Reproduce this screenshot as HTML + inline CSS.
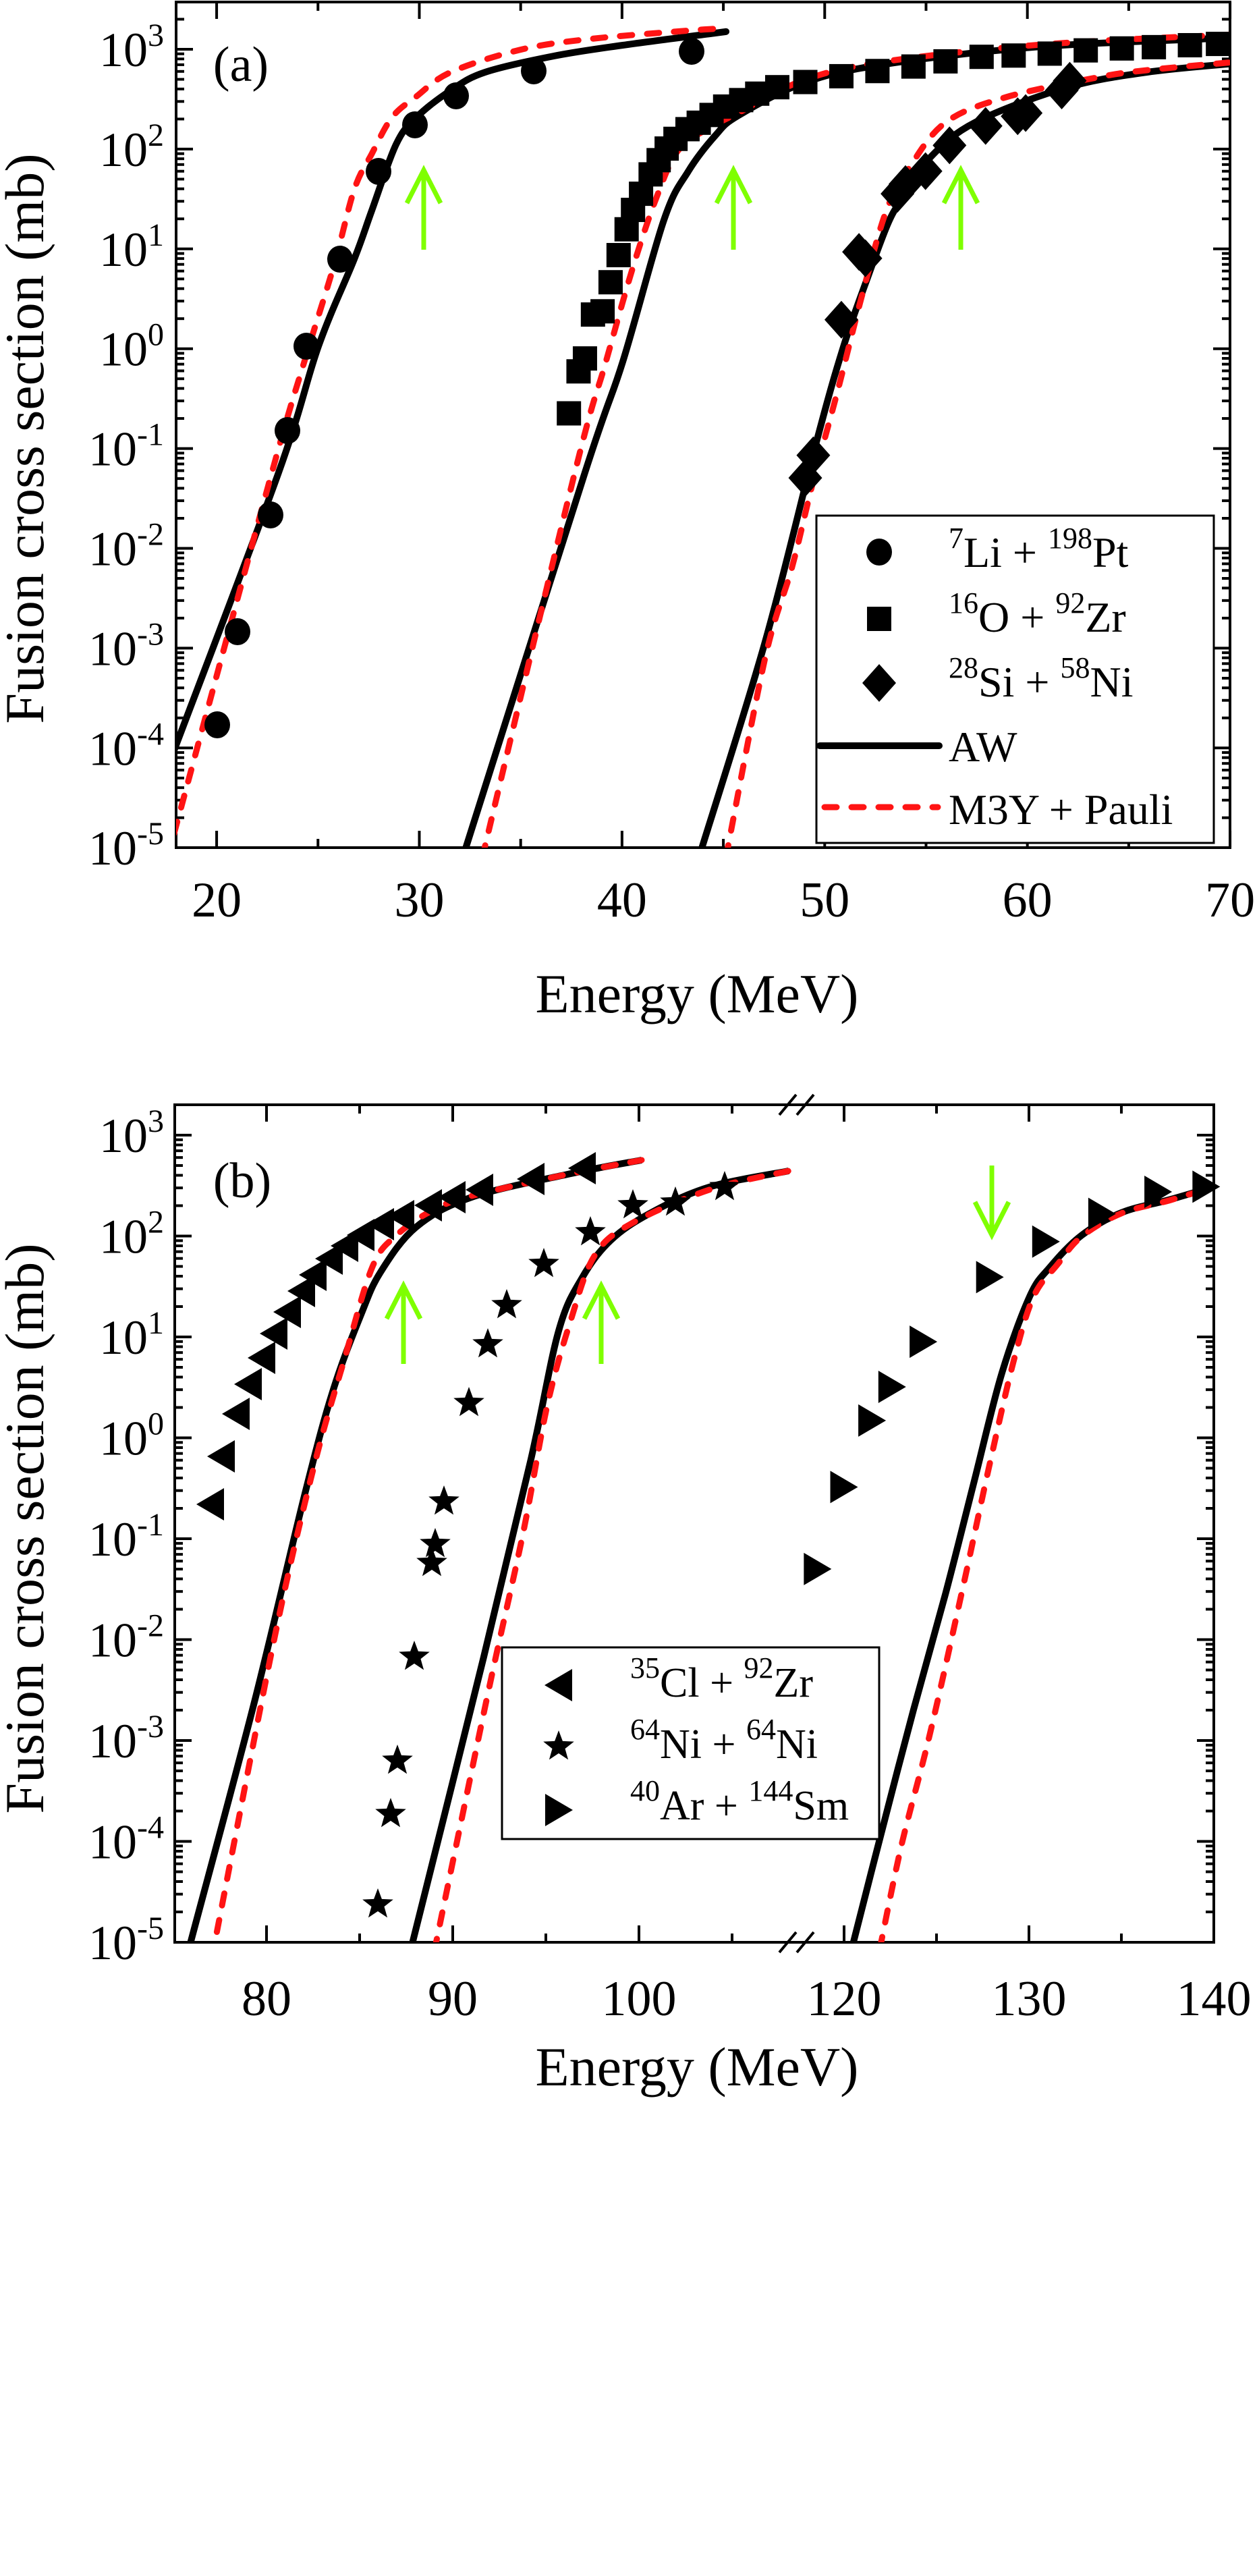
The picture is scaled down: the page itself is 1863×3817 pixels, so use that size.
<!DOCTYPE html>
<html><head><meta charset="utf-8"><style>
html,body{margin:0;padding:0;background:#fff;}
svg{display:block;}
text{font-family:"Liberation Serif","Times New Roman","DejaVu Serif",serif;fill:#000;}
</style></head><body>
<svg id="s" width="1863" height="3817" xmlns="http://www.w3.org/2000/svg" font-family="'Liberation Serif', 'DejaVu Serif', serif"></svg>
<script>
const S=document.getElementById('s');const NS='http://www.w3.org/2000/svg';
const FF='"Liberation Serif","Times New Roman","DejaVu Serif",serif';
function el(t,a,p){const e=document.createElementNS(NS,t);for(const k in a)e.setAttribute(k,a[k]);(p||S).appendChild(e);return e;}
function txt(x,y,parts,a){const e=el('text',Object.assign({x:x,y:y,'font-family':FF,style:'font-family:'+FF},a||{}));
 if(typeof parts!=='object'){e.textContent=parts;return e;}
 for(const p of parts){const t=document.createElementNS(NS,'tspan');t.textContent=p[0];if(p[1])t.setAttribute('font-size',p[1]);if(p[2])t.setAttribute('dy',p[2]);e.appendChild(t);}return e;}
function cr(pts){let d='M'+pts[0][0].toFixed(1)+','+pts[0][1].toFixed(1);
 for(let i=0;i<pts.length-1;i++){const p0=pts[Math.max(0,i-1)],p1=pts[i],p2=pts[i+1],p3=pts[Math.min(pts.length-1,i+2)];
 const c1=[p1[0]+(p2[0]-p0[0])/6,p1[1]+(p2[1]-p0[1])/6],c2=[p2[0]-(p3[0]-p1[0])/6,p2[1]-(p3[1]-p1[1])/6];
 d+='C'+c1.map(v=>v.toFixed(1))+' '+c2.map(v=>v.toFixed(1))+' '+p2.map(v=>v.toFixed(1));}return d;}
const CA=(p)=>p.map(q=>[q[0]*1.1876,q[1]*0.957]);
const CB=(p)=>p.map(q=>[q[0]*1.1876,q[1]*0.957+1500]);
function mk(type,x,y){
 if(type=='c')el('ellipse',{cx:x,cy:y,rx:19,ry:20});
 else if(type=='s')el('rect',{x:x-18,y:y-18,width:36,height:36});
 else if(type=='d')el('polygon',{points:`${x},${y-28} ${x+25},${y} ${x},${y+28} ${x-25},${y}`});
 else if(type=='l')el('polygon',{points:`${x-21},${y} ${x+20},${y-24} ${x+20},${y+24}`});
 else if(type=='r')el('polygon',{points:`${x+21},${y} ${x-20},${y-24} ${x-20},${y+24}`});
 else if(type=='t'){let p=[];for(let i=0;i<10;i++){const a=-Math.PI/2+i*Math.PI/5,rr=i%2?10:24;p.push((x+rr*Math.cos(a)).toFixed(1)+','+(y+rr*Math.sin(a)).toFixed(1));}el('polygon',{points:p.join(' ')});}
}
function arrow(x,y1,y2){const d=y2<y1?1:-1;el('path',{d:`M${x},${y1}L${x},${y2}M${x-25},${y2+d*49}L${x},${y2}L${x+25},${y2+d*49}`,fill:'none',stroke:'#7fff00','stroke-width':7});}
function ylab(x,y,e){txt(x,y,[['10'],[String(e),48,-30]],{'font-size':72,'text-anchor':'end'});}
function cv(pts,red,g){el('path',{d:cr(pts),fill:'none',stroke:red?'#ff1414':'#000','stroke-width':red?9:10,'stroke-dasharray':red?'18 22':'none','stroke-linecap':red?'round':'butt'},g);}
function leg(x,y,a,b,c,d,fs){txt(x,y,[[a,44,-28],[b,null,28],[c,44,-28],[d,null,28]],{'font-size':fs});}

// ===== Panel A =====
const A={l:261,r:1823,t:3,b:1256};
const xa=E=>261+(E-18)*30.04, ya=l=>73+(3-l)*147.9;
for(let E=20;E<=70;E+=5){const x=xa(E),L=E%10==0?25:13;el('line',{x1:x,y1:A.b,x2:x,y2:A.b-L,stroke:'#000','stroke-width':4});el('line',{x1:x,y1:A.t,x2:x,y2:A.t+L,stroke:'#000','stroke-width':4});
 if(E%10==0)txt(x,1358,String(E),{'font-size':74,'text-anchor':'middle'});}
for(let d=-5;d<=3;d++){for(let m=1;m<=9;m++){const l=d+Math.log10(m),y=ya(l);if(y<A.t||y>A.b)continue;const L=m==1?25:12;
 el('line',{x1:A.l,y1:y,x2:A.l+L,y2:y,stroke:'#000','stroke-width':4});el('line',{x1:A.r,y1:y,x2:A.r-L,y2:y,stroke:'#000','stroke-width':4});}
 ylab(243,ya(d)+25,d);}
el('rect',{x:A.l,y:A.t,width:A.r-A.l,height:A.b-A.t,fill:'none',stroke:'#000','stroke-width':4});
txt(36,650,'Fusion cross section (mb)',{'font-size':82,'text-anchor':'middle',transform:'rotate(-90 36 650)',dy:28});
txt(1033,1500,'Energy (MeV)',{'font-size':82,'text-anchor':'middle'});
txt(357,120,'(a)',{'font-size':74,'text-anchor':'middle'});
const clipA=el('clipPath',{id:'ca'});el('rect',{x:A.l,y:A.t,width:A.r-A.l,height:A.b-A.t},clipA);
const gA=el('g',{'clip-path':'url(#ca)'});
cv([[258,1112],[413,700],[472,513],[525,384],[551,312],[587,214],[617,174],[668,134],[719,107],[821,83],[923,67],[1060,49],[1075,47]],0,gA);
cv([[686,1270],[867,700],[923,536],[984,326],[1020,254],[1060,201],[1093,172],[1188,124],[1306,96],[1544,69],[1829,56]],0,gA);
cv([[1036,1270],[1134,951],[1210,655],[1250,514],[1286,411],[1317,329],[1339,292],[1379,233],[1446,181],[1580,130],[1700,107],[1829,94]],0,gA);
cv([[258,1235],[403,700],[451,536],[495,393],[525,281],[551,228],[581,174],[617,143],[668,107],[770,74],[872,58],[1025,45],[1075,42]],1,gA);
cv([[715,1270],[852,700],[898,536],[939,393],[974,290],[1005,223],[1050,190],[1093,168],[1188,120],[1306,92],[1544,66],[1829,51]],1,gA);
cv([[1076,1270],[1134,975],[1174,840],[1205,714],[1241,581],[1277,440],[1313,314],[1348,248],[1402,181],[1491,144],[1625,115],[1700,104],[1829,92]],1,gA);
[[322,1074],[352,936],[401,763],[426,638],[454,513],[504,384],[561,254],[615,185],[676,142],[791,105],[1025,76]].forEach(p=>mk('c',p[0],p[1]));
CA([[710,640],[722,575],[730,555],[740,487],[752,482],[762,437],[772,395],[782,355],[790,325],[800,300],[812,270],[822,248],[832,230],[843,215],[858,200],[872,190],[888,178],[905,165],[925,155],[945,145],[970,135],[1005,127],[1050,118],[1095,110],[1140,103],[1180,95],[1225,88],[1265,86],[1310,83],[1355,78],[1400,75],[1440,73],[1485,70],[1520,68]]).forEach(p=>mk('s',p[0],p[1]));
CA([[1005,740],[1015,705],[1050,495],[1072,390],[1080,400],[1120,300],[1130,285],[1155,265],[1185,225],[1230,195],[1270,180],[1280,175],[1325,140],[1335,125]]).forEach(p=>mk('d',p[0],p[1]));
arrow(628,370,252);arrow(1087,370,252);arrow(1424,370,252);
el('rect',{x:1210,y:764,width:589,height:485,fill:'#fff',stroke:'#000','stroke-width':3});
mk('c',1303,818);mk('s',1303,917);mk('d',1303,1012);
el('line',{x1:1215,y1:1105,x2:1392,y2:1105,stroke:'#000','stroke-width':10,'stroke-linecap':'round'});
el('line',{x1:1222,y1:1196,x2:1390,y2:1196,stroke:'#ff1414','stroke-width':9,'stroke-dasharray':'18 22','stroke-linecap':'round'});
leg(1406,840,'7','Li + ','198','Pt',64);
leg(1406,936,'16','O + ','92','Zr',64);
leg(1406,1032,'28','Si + ','58','Ni',64);
txt(1406,1128,'AW',{'font-size':64});
txt(1406,1221,'M3Y + Pauli',{'font-size':64});

// ===== Panel B =====
const B={l:259,r:1799,t:1637,b:2878};
const yb=l=>1682+(3-l)*149.5;
const xb=E=>E<=112?395+(E-80)*27.6:1251+(E-120)*27.4;
for(const E of [80,85,90,95,100,105,120,125,130,135,140]){const x=xb(E),L=E%10==0?25:13;
 el('line',{x1:x,y1:B.b,x2:x,y2:B.b-L,stroke:'#000','stroke-width':4});el('line',{x1:x,y1:B.t,x2:x,y2:B.t+L,stroke:'#000','stroke-width':4});
 if(E%10==0)txt(x,2986,String(E),{'font-size':74,'text-anchor':'middle'});}
for(let d=-5;d<=3;d++){for(let m=1;m<=9;m++){const l=d+Math.log10(m),y=yb(l);if(y<B.t||y>B.b)continue;const L=m==1?25:12;
 el('line',{x1:B.l,y1:y,x2:B.l+L,y2:y,stroke:'#000','stroke-width':4});el('line',{x1:B.r,y1:y,x2:B.r-L,y2:y,stroke:'#000','stroke-width':4});}
 ylab(243,yb(d)+25,d);}
el('rect',{x:B.l,y:B.t,width:B.r-B.l,height:B.b-B.t,fill:'none',stroke:'#000','stroke-width':4});
for(const y of [B.t,B.b]){el('line',{x1:1155,y1:y+15,x2:1180,y2:y-15,stroke:'#000','stroke-width':4});el('line',{x1:1181,y1:y+15,x2:1206,y2:y-15,stroke:'#000','stroke-width':4});}
txt(36,2265,'Fusion cross section (mb)',{'font-size':82,'text-anchor':'middle',transform:'rotate(-90 36 2265)',dy:28});
txt(1033,3090,'Energy (MeV)',{'font-size':82,'text-anchor':'middle'});
txt(359,1774,'(b)',{'font-size':74,'text-anchor':'middle'});
const clipB=el('clipPath',{id:'cb'});el('rect',{x:B.l,y:B.t,width:B.r-B.l,height:B.b-B.t},clipB);
const gB=el('g',{'clip-path':'url(#cb)'});
cv([[279,2895],[282,2880],[376,2526],[453,2209],[494,2059],[535,1948],[564,1885],[617,1818],[699,1774],[846,1739],[951,1719]],0,gB);
cv([[608,2895],[611,2880],[717,2455],[787,2162],[828,1972],[863,1893],[905,1838],[963,1798],[1051,1759],[1169,1735]],0,gB);
cv(CB([[1063,1450],[1100,1270],[1140,1080],[1180,900],[1215,730],[1250,560],[1285,440],[1310,395],[1350,345],[1400,310],[1460,290],[1520,268]]),0,gB);
cv([[314,2895],[318,2880],[406,2431],[464,2178],[511,2012],[552,1877],[588,1830],[640,1794],[699,1772],[846,1739],[951,1719]],1,gB);
cv([[643,2895],[646,2880],[723,2510],[775,2273],[811,2083],[846,1956],[881,1861],[934,1814],[1051,1763],[1169,1735]],1,gB);
cv(CB([[1098,1450],[1125,1290],[1160,1120],[1200,900],[1235,700],[1265,540],[1290,440],[1320,390],[1350,347],[1400,311],[1460,291],[1520,268]]),1,gB);
[[312,2229],[328,2158],[350,2095],[368,2051],[388,2012],[406,1976],[426,1944],[447,1913],[464,1889],[488,1865],[511,1846],[535,1830],[564,1814],[594,1802],[635,1786],[670,1774],[711,1763],[787,1747],[863,1731]].forEach(p=>mk('l',p[0],p[1]));
[[560,2822],[579,2688],[589,2609],[614,2455],[640,2316],[645,2288],[658,2225],[695,2079],[723,1992],[751,1934],[806,1873],[875,1826],[938,1786],[1001,1782],[1074,1759]].forEach(p=>mk('t',p[0],p[1]));
CB([[1020,862],[1053,735],[1088,632],[1113,580],[1152,510],[1235,410],[1305,355],[1375,312],[1445,278],[1505,270]]).forEach(p=>mk('r',p[0],p[1]));
arrow(598,2021,1905);arrow(891,2021,1905);arrow(1470,1727,1830);
el('rect',{x:744,y:2441,width:559,height:284,fill:'#fff',stroke:'#000','stroke-width':3});
mk('l',828,2497);mk('t',828,2588);mk('r',828,2682);
leg(934,2514,'35','Cl + ','92','Zr',62);
leg(934,2605,'64','Ni + ','64','Ni',62);
leg(934,2696,'40','Ar + ','144','Sm',62);
</script>
</body></html>
